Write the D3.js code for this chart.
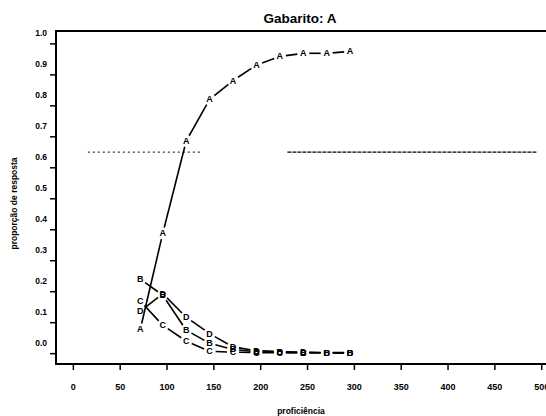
<!DOCTYPE html>
<html>
<head>
<meta charset="utf-8">
<script src="https://cdn.jsdelivr.net/npm/d3@7"></script>
<style>
  html, body { margin: 0; padding: 0; background: #fff; }
  svg { display: block; }
  text { font-family: "Liberation Sans", Arial, sans-serif; fill: #000; }
</style>
</head>
<body>
<svg id="chart" width="546" height="416"></svg>
<script>
// Proficiency levels at which the response proportions were computed
const proficiency = [72, 96, 121, 146, 171, 196, 221, 246, 271, 296];

// Proportion of examinees choosing each alternative (key = A)
const propA = [0.077, 0.387, 0.685, 0.819, 0.880, 0.930, 0.958, 0.968, 0.968, 0.974];
const propB = [0.239, 0.187, 0.074, 0.032, 0.012, 0.004, 0.003, 0.002, 0.001, 0.001];
const propC = [0.168, 0.090, 0.039, 0.006, 0.003, 0.002, 0.001, 0.001, 0.001, 0.000];
const propD = [0.135, 0.192, 0.116, 0.063, 0.020, 0.008, 0.005, 0.003, 0.002, 0.002];

const seriesNames = ["D", "C", "B", "A"];
const seriesValues = [propD, propC, propB, propA];

// Reference level drawn as a dotted horizontal line
const refLevel = 0.649;
const refSpans = [[16, 136], [229, 496]];

const xTicks = [0, 50, 100, 150, 200, 250, 300, 350, 400, 450, 500];
const yTicks = [0, 0.1, 0.2, 0.3, 0.4, 0.5, 0.6, 0.7, 0.8, 0.9, 1.0];

const titleText = "Gabarito:  A";
const xTitle = "proficiência";
const yTitle = "proporção de resposta";

const svg = d3.select("#chart");
const plot = { left: 56, right: 559, top: 31, bottom: 364 };

const x = d3.scaleLinear().domain([-18, 519]).range([plot.left, plot.right]);
const y = d3.scaleLinear().domain([-0.035, 1.04]).range([plot.bottom, plot.top]);

// Title
svg.append("text")
  .attr("x", 300).attr("y", 23)
  .attr("text-anchor", "middle")
  .style("font-size", "13.5px").style("font-weight", "bold")
  .text(titleText);

// Frame
svg.append("rect")
  .attr("x", plot.left).attr("y", plot.top)
  .attr("width", plot.right - plot.left).attr("height", plot.bottom - plot.top)
  .attr("fill", "none").attr("stroke", "#000").attr("stroke-width", 2);

// X axis
const xAxis = svg.append("g")
  .attr("transform", `translate(0,${plot.bottom})`)
  .call(d3.axisBottom(x).tickValues(xTicks).tickFormat(d3.format("d")).tickSize(6).tickPadding(14));
xAxis.select(".domain").remove();
xAxis.selectAll("line").attr("stroke", "#000").attr("stroke-width", 1.5);
xAxis.selectAll("text").style("font-size", "9px").style("font-weight", "bold");

// Y axis (labels sit slightly above their ticks)
const yAxis = svg.append("g")
  .attr("transform", `translate(${plot.left},0)`)
  .call(d3.axisLeft(y).tickValues(yTicks).tickFormat(d3.format(".1f")).tickSize(6).tickPadding(3));
yAxis.select(".domain").remove();
yAxis.selectAll("line").attr("stroke", "#000").attr("stroke-width", 1.5);
yAxis.selectAll("text")
  .attr("dy", "-0.9em")
  .style("font-size", "8.5px").style("font-weight", "bold");

// Axis titles
svg.append("text")
  .attr("x", 301).attr("y", 414)
  .attr("text-anchor", "middle")
  .style("font-size", "8.5px").style("font-weight", "bold")
  .text(xTitle);

svg.append("text")
  .attr("transform", `translate(17,${(plot.top + plot.bottom) / 2 + 6}) rotate(-90)`)
  .attr("text-anchor", "middle")
  .style("font-size", "8.5px").style("font-weight", "bold")
  .text(yTitle);

// Dotted reference line
refSpans.forEach((s, i) => {
  svg.append("line")
    .attr("x1", x(s[0])).attr("x2", x(s[1]))
    .attr("y1", y(refLevel)).attr("y2", y(refLevel))
    .attr("stroke", "#000")
    .attr("stroke-width", i === 0 ? 1 : 1.3)
    .attr("stroke-dasharray", i === 0 ? "2,3" : "4,1");
});

// Curves drawn point-and-line style: segments stop short of each letter
const gap = 6;
const curves = svg.append("g");
seriesValues.forEach((vals, si) => {
  const pts = vals.map((v, i) => [x(proficiency[i]), y(v)]);
  for (let i = 0; i < pts.length - 1; i++) {
    const [x1, y1] = pts[i], [x2, y2] = pts[i + 1];
    const len = Math.hypot(x2 - x1, y2 - y1);
    if (len <= 2 * gap) continue;
    const ux = (x2 - x1) / len, uy = (y2 - y1) / len;
    curves.append("line")
      .attr("x1", x1 + ux * gap).attr("y1", y1 + uy * gap)
      .attr("x2", x2 - ux * gap).attr("y2", y2 - uy * gap)
      .attr("stroke", "#000").attr("stroke-width", 1.6);
  }
});
seriesValues.forEach((vals, si) => {
  curves.selectAll(null)
    .data(vals.map((v, i) => ({ px: proficiency[i], v })))
    .enter().append("text")
    .attr("x", d => x(d.px))
    .attr("y", d => y(d.v))
    .attr("text-anchor", "middle")
    .attr("dominant-baseline", "central")
    .style("font-size", "9px").style("font-weight", "bold")
    .text(seriesNames[si]);
});
</script>
</body>
</html>
